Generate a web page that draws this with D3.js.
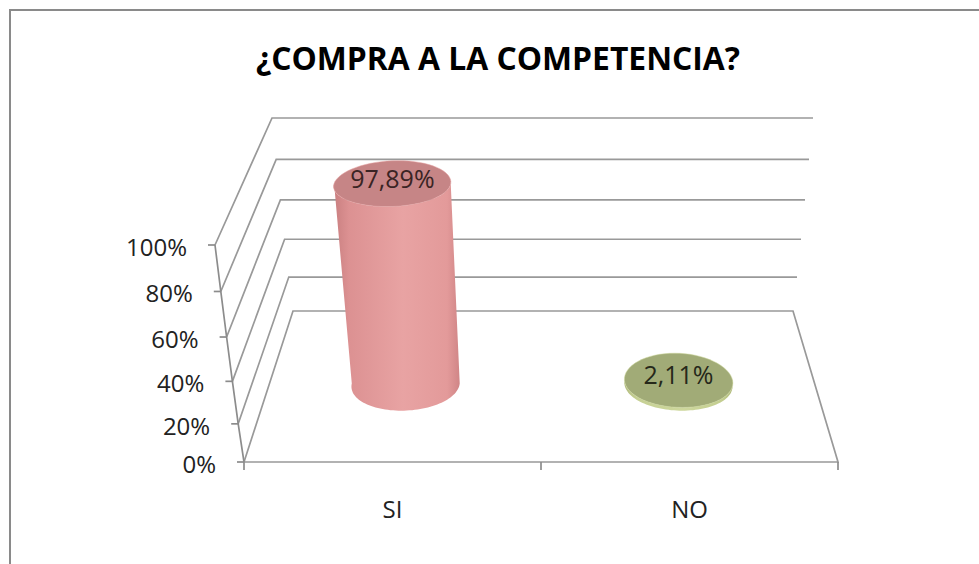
<!DOCTYPE html>
<html>
<head>
<meta charset="utf-8">
<script src="https://cdn.jsdelivr.net/npm/d3@7"></script>
<style>
  html, body { margin: 0; padding: 0; background: #fff; }
  text { font-family: "Open Sans", "Noto Sans", sans-serif; }
</style>
</head>
<body>
<div id="chart-area"></div>
<script>
// data
var categories = ["SI", "NO"];
var values = [0.9789, 0.0211];
var valueLabels = ["97,89%", "2,11%"];
var tickValues = [0, 0.2, 0.4, 0.6, 0.8, 1];
var tickLabels = ["0%", "20%", "40%", "60%", "80%", "100%"];
var barColors = [
	{side: ["#c97f80", "#dc9192", "#e8a3a3", "#e39a9a", "#d08586"], top: "#c68586"},
	{side: ["#b3bd80", "#c6d094", "#cdd79c", "#c3cd90", "#b0ba7c"], top: "#a1ab77"}
];

var width = 979, height = 564;

var svg = d3.select("#chart-area")
	.append("svg")
		.attr("width", width)
		.attr("height", height);

// frame
svg.append("rect")
	.attr("x", 10).attr("y", 10)
	.attr("width", 1000).attr("height", 600)
	.attr("fill", "#fff")
	.attr("stroke", "#8a8a8a")
	.attr("stroke-width", 2);

//3d box: value scales for front and back planes, plus the edges
var yFront = d3.scalePow().exponent(1.08).domain([0, 1]).range([462, 245]);
var yBack = d3.scalePow().exponent(1.08).domain([0, 1]).range([311, 118]);
var xFrontLeft = d3.scaleLinear().domain([0, 1]).range([244, 215]);
var xBackLeft = d3.scaleLinear().domain([0, 1]).range([293, 272]);
var xBackRight = d3.scaleLinear().domain([0, 1]).range([793, 813]);
var xFrontRight = d3.scaleLinear().domain([0, 1]).range([838, 858]);

var x = d3.scaleBand().domain(categories).range([0, 1]);
var depth = 0.52;

// u: across, v: value, w: depth (0 front, 1 back)
function proj(u, v, w) {
	var fx = xFrontLeft(v) + (xFrontRight(v) - xFrontLeft(v)) * u;
	var bx = xBackLeft(v) + (xBackRight(v) - xBackLeft(v)) * u;
	var fy = yFront(v), by = yBack(v);
	return [fx + (bx - fx) * w, fy + (by - fy) * w];
}

var line = d3.line();
var gridColor = "#999";

// walls
tickValues.forEach(function(v) {
	var pts = [proj(0, v, 0), proj(0, v, 1), proj(1, v, 1)];
	if (v == 0) pts.push(proj(1, v, 0), proj(0, v, 0));
	svg.append("path")
		.attr("d", line(pts))
		.attr("fill", "none")
		.attr("stroke", gridColor)
		.attr("stroke-width", 1.7);
});

// front vertical axis
svg.append("path")
	.attr("d", line(tickValues.map(function(v){ return proj(0, v, 0); })))
	.attr("fill", "none")
	.attr("stroke", "#8c8c8c")
	.attr("stroke-width", 1.7);

// y ticks + labels
tickValues.forEach(function(v, i) {
	var p = proj(0, v, 0);
	svg.append("line")
		.attr("x1", p[0] - 7).attr("x2", p[0])
		.attr("y1", p[1]).attr("y2", p[1])
		.attr("stroke", "#8c8c8c")
		.attr("stroke-width", 1.7);
	svg.append("text")
		.attr("x", p[0] - 28)
		.attr("y", p[1] + 11)
		.attr("text-anchor", "end")
		.attr("font-size", 24)
		.attr("fill", "#222")
		.text(tickLabels[i]);
});

// x ticks at the band edges
[0, 0.5, 1].forEach(function(u) {
	var p = proj(u, 0, 0);
	svg.append("line")
		.attr("x1", p[0]).attr("x2", p[0])
		.attr("y1", p[1]).attr("y2", p[1] + 8)
		.attr("stroke", "#8c8c8c")
		.attr("stroke-width", 1.7);
});

// category labels
categories.forEach(function(c) {
	var p = proj(x(c) + x.bandwidth() / 2, 0, 0);
	svg.append("text")
		.attr("x", p[0])
		.attr("y", 518)
		.attr("text-anchor", "middle")
		.attr("font-size", 24)
		.attr("fill", "#222")
		.text(c);
});

// cylinders
var ru = 0.099, rw = 0.18, steps = 64;
var defs = svg.append("defs");

function arc(u0, v, t0, t1) {
	return d3.range(steps + 1).map(function(k) {
		var t = t0 + (t1 - t0) * k / steps;
		return proj(u0 + ru * Math.cos(t), v, depth + rw * Math.sin(t));
	});
}

categories.forEach(function(c, i) {
	var u0 = x(c) + x.bandwidth() / 2;
	var v = values[i];
	var bottom = arc(u0, 0, Math.PI, 2 * Math.PI);
	var topFront = arc(u0, v, 2 * Math.PI, Math.PI);
	var topFull = arc(u0, v, 0, 2 * Math.PI);

	var xs = bottom.concat(topFront).map(function(p){ return p[0]; });
	var grad = defs.append("linearGradient")
		.attr("id", "side" + i)
		.attr("gradientUnits", "userSpaceOnUse")
		.attr("x1", d3.min(xs)).attr("x2", d3.max(xs))
		.attr("y1", 0).attr("y2", 0);
	[0, 0.12, 0.55, 0.9, 1].forEach(function(o, k) {
		grad.append("stop").attr("offset", o).attr("stop-color", barColors[i].side[k]);
	});

	svg.append("path")
		.attr("d", line(bottom.concat(topFront)) + "Z")
		.attr("fill", "url(#side" + i + ")");

	svg.append("path")
		.attr("d", line(topFull) + "Z")
		.attr("fill", barColors[i].top)
		.attr("stroke", barColors[i].side[2])
		.attr("stroke-opacity", 0.5)
		.attr("stroke-width", 1);

	var ctr = proj(u0, v, depth);
	svg.append("text")
		.attr("x", ctr[0])
		.attr("y", ctr[1] + 4)
		.attr("text-anchor", "middle")
		.attr("font-size", 25)
		.attr("fill", i == 0 ? "#3a2424" : "#26281a")
		.text(valueLabels[i]);
});

// title
svg.append("text")
	.attr("x", 498)
	.attr("y", 70)
	.attr("text-anchor", "middle")
	.attr("font-size", 32)
	.attr("font-weight", "bold")
	.attr("fill", "#000")
	.attr("textLength", 484)
	.attr("lengthAdjust", "spacingAndGlyphs")
	.text("¿COMPRA A LA COMPETENCIA?");
</script>
</body>
</html>
